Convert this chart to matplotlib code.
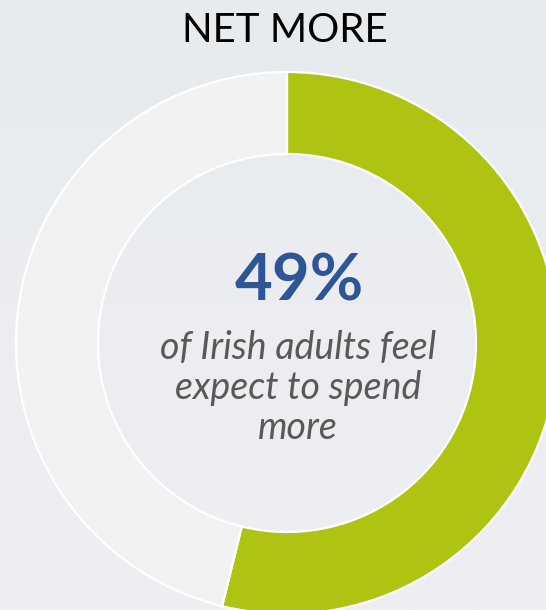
import numpy as np
import matplotlib.pyplot as plt
from matplotlib.colors import LinearSegmentedColormap

# donut shares
labels = ["Net more", "Rest"]
values = [49, 42]
colors = ["#AFC312", "#F2F2F2"]

title = "NET MORE"
headline = "49%"
caption = "of Irish adults feel\nexpect to spend\nmore"

W, H = 546, 610
fig = plt.figure(figsize=(W / 100, H / 100), dpi=100)
ax = fig.add_axes([0, 0, 1, 1])
ax.set_xlim(0, W)
ax.set_ylim(0, H)
ax.set_aspect("equal")
ax.axis("off")

# soft background gradient
bg = LinearSegmentedColormap.from_list("bg", ["#EFEFF3", "#E7EBEE"])
ax.imshow(np.linspace(0, 1, 256).reshape(-1, 1), cmap=bg, extent=[0, W, 0, H],
          aspect="auto", origin="lower", zorder=0)

cx, cy = 287, H - 343
r_out, r_in = 271, 189
ax.pie(values, colors=colors, startangle=90, counterclock=False,
       center=(cx, cy), radius=r_out, frame=True,
       wedgeprops=dict(width=r_out - r_in, edgecolor="white", linewidth=1.6))
ax.set_xlim(0, W)
ax.set_ylim(0, H)
ax.axis("off")

ax.text(285, H - 30, title, ha="center", va="center", fontsize=29,
        family="Lato", color="black")
ax.text(299, H - 282, headline, ha="center", va="center", fontsize=47,
        family="Lato", weight="bold", color="#2F5597")
ax.text(298, H - 388, caption, ha="center", va="center", fontsize=27,
        family="Lato", style="italic", color="#595959", linespacing=1.13)

fig.savefig("out.png", dpi=100)
